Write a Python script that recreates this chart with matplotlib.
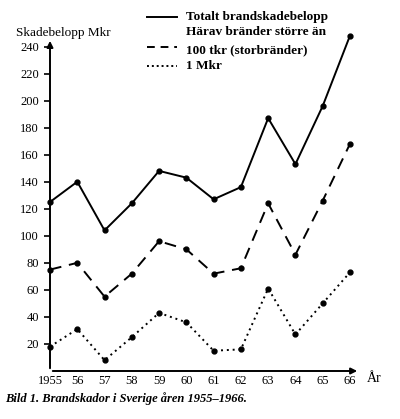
import matplotlib
matplotlib.use('Agg')
import matplotlib.pyplot as plt

years = [1955, 1956, 1957, 1958, 1959, 1960, 1961, 1962, 1963, 1964, 1965, 1966]
year_labels = ['1955', '56', '57', '58', '59', '60', '61', '62', '63', '64', '65', '66']
total = [125, 140, 104, 124, 148, 143, 127, 136, 187, 153, 196, 248]
over_100tkr = [75, 80, 55, 72, 96, 90, 72, 76, 124, 86, 126, 168]
over_1mkr = [18, 31, 8, 25, 43, 36, 15, 16, 61, 27, 50, 73]
yticks = [20, 40, 60, 80, 100, 120, 140, 160, 180, 200, 220, 240]

plt.rcParams['font.family'] = ['Liberation Serif', 'DejaVu Serif']

fig = plt.figure(figsize=(4, 4.19), dpi=100)
ax = fig.add_axes([0.125, 1 - 371 / 419, (360 - 50) / 400, (371 - 33) / 419])

style = dict(color='black', marker='o', markersize=3.5, lw=1.4, clip_on=False)
ax.plot(years, total, ls='-', **style)
ax.plot(years, over_100tkr, ls=(0, (6, 4)), **style)
ax.plot(years, over_1mkr, ls=(0, (1, 2)), **style)

ax.set_xlim(1955, 1955 + 310 / 27.27)
ax.set_ylim(0, 250)
for s in ax.spines.values():
    s.set_visible(False)

# axis arrows
ax.annotate('', xy=(1, 0), xytext=(0, 0), xycoords='axes fraction',
            arrowprops=dict(arrowstyle='-|>', color='black', lw=1.4, mutation_scale=9))
ax.annotate('', xy=(0, 0.985), xytext=(0, 0), xycoords='axes fraction',
            arrowprops=dict(arrowstyle='-|>', color='black', lw=1.4, mutation_scale=9))

ax.set_yticks(yticks)
ax.set_yticklabels([str(v) for v in yticks], fontsize=9)
ax.set_xticks(years)
ax.set_xticklabels(year_labels, fontsize=9)
ax.tick_params(axis='y', length=4, width=1.2, pad=4)
ax.tick_params(axis='x', length=0, pad=3)

fig.text(16 / 400, 1 - 33 / 419, 'Skadebelopp Mkr', fontsize=9.5, va='center', ha='left')
fig.text(367 / 400, 1 - 378 / 419, 'År', fontsize=10, va='center', ha='left')

# legend
lx0, lx1 = 147 / 400, 177 / 400
fig.add_artist(plt.Line2D([lx0, lx1], [1 - 17 / 419] * 2, color='black', lw=1.4))
fig.add_artist(plt.Line2D([lx0, lx1], [1 - 47 / 419] * 2, color='black', lw=1.4, ls=(0, (4, 3))))
fig.add_artist(plt.Line2D([lx0, lx1], [1 - 66 / 419] * 2, color='black', lw=1.4, ls=(0, (1, 1.5))))
leg_kw = dict(fontsize=9.5, fontweight='bold', va='center', ha='left')
fig.text(186 / 400, 1 - 17 / 419, 'Totalt brandskadebelopp', **leg_kw)
fig.text(186 / 400, 1 - 32 / 419, 'Härav bränder större än', **leg_kw)
fig.text(186 / 400, 1 - 50 / 419, '100 tkr (storbränder)', **leg_kw)
fig.text(186 / 400, 1 - 66 / 419, '1 Mkr', **leg_kw)

fig.text(5 / 400, 1 - 399 / 419, 'Bild 1. Brandskador i Sverige åren 1955–1966.',
         fontsize=9, fontstyle='italic', fontweight='bold', va='center', ha='left')

fig.savefig('out.png', dpi=100)
